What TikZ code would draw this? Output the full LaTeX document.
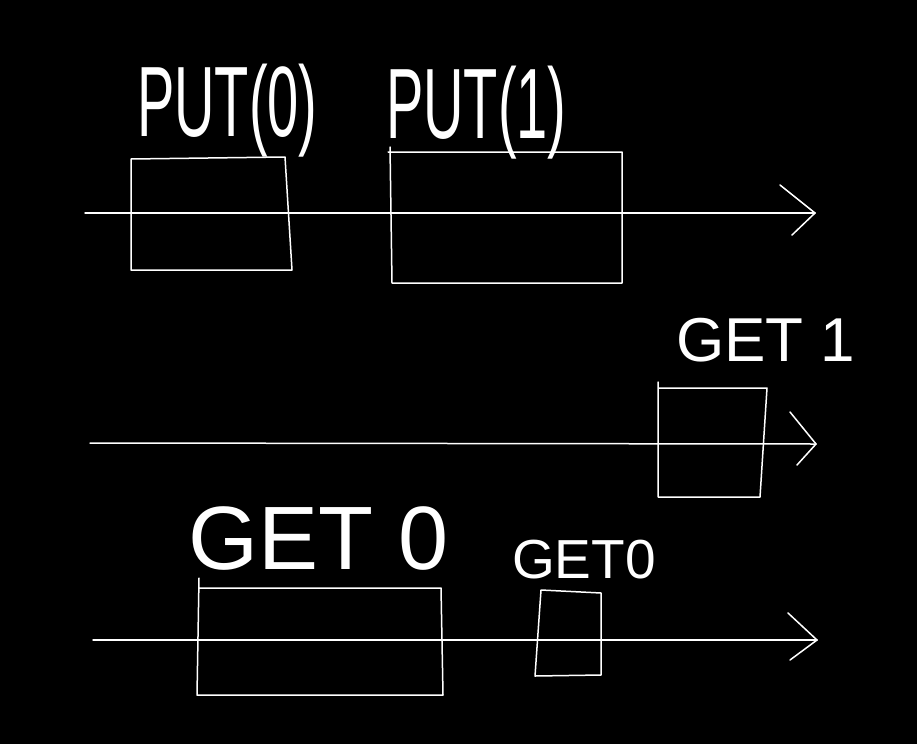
\documentclass[tikz,border=0pt]{standalone}
\usepackage{fontspec}
\setmainfont{Liberation Sans}
\begin{document}
\begin{tikzpicture}[x=1pt,y=-1pt,
  ink/.style={draw=white,line width=1.5pt,line cap=round,line join=round},
  hand/.style={text=white,inner sep=0pt,anchor=base west}]
\useasboundingbox[fill=black] (0,0) rectangle (917,744);
% ---- timeline 1 ----
\coordinate (a1s) at (85,213);
\coordinate (a1e) at (815,213);
\coordinate (a1u) at (780,185);
\coordinate (a1d) at (792,235);
\draw[ink] (a1s) -- (a1e);
\draw[ink] (a1u) -- (a1e) -- (a1d);
% PUT(0) box
\coordinate (p0a) at (131,159);
\coordinate (p0b) at (285,157);
\coordinate (p0c) at (292,270);
\coordinate (p0d) at (131,270);
\draw[ink] (p0a) -- (p0b) -- (p0c) -- (p0d) -- cycle;
% PUT(1) box
\coordinate (p1a) at (388,152);
\coordinate (p1b) at (622,152);
\coordinate (p1c) at (622,283);
\coordinate (p1d) at (392,283);
\coordinate (p1t) at (390,147);
\draw[ink] (p1a) -- (p1b) -- (p1c) -- (p1d) -- (p1t);
% labels
\node[hand] (lput0) at (137,136) {\scalebox{0.56}[1]{\fontsize{100}{100}\selectfont PUT(0)}};
\node[hand] (lput1) at (386,138) {\scalebox{0.56}[1]{\fontsize{100}{100}\selectfont PUT(1)}};
% ---- timeline 2 ----
\coordinate (a2s) at (90,443);
\coordinate (a2e) at (816,444);
\coordinate (a2u) at (790,412);
\coordinate (a2d) at (797,465);
\draw[ink] (a2s) -- (a2e);
\draw[ink] (a2u) -- (a2e) -- (a2d);
% GET 1 box
\coordinate (g1t) at (658,382);
\coordinate (g1a) at (658,388);
\coordinate (g1b) at (767,388);
\coordinate (g1c) at (760,497);
\coordinate (g1d) at (658,497);
\draw[ink] (g1t) -- (g1d) -- (g1c) -- (g1b) -- (g1a);
\node[hand] (lget1) at (676,361) {\fontsize{62}{62}\selectfont GET 1};
% ---- timeline 3 ----
\coordinate (a3s) at (93,640);
\coordinate (a3e) at (817,640);
\coordinate (a3u) at (788,613);
\coordinate (a3d) at (790,660);
\draw[ink] (a3s) -- (a3e);
\draw[ink] (a3u) -- (a3e) -- (a3d);
% GET 0 box
\coordinate (g0t) at (199,578);
\coordinate (g0a) at (199,588);
\coordinate (g0b) at (441,588);
\coordinate (g0c) at (443,695);
\coordinate (g0d) at (197,695);
\draw[ink] (g0t) -- (g0d) -- (g0c) -- (g0b) -- (g0a);
\node[hand] (lget0) at (188,569) {\fontsize{90}{90}\selectfont GET 0};
% small GET0 box
\coordinate (s0a) at (541,590);
\coordinate (s0b) at (601,593);
\coordinate (s0c) at (601,675);
\coordinate (s0d) at (535,676);
\draw[ink] (s0a) -- (s0b) -- (s0c) -- (s0d) -- cycle;
\node[hand] (lget0s) at (512,578) {\fontsize{55}{55}\selectfont GET0};
\end{tikzpicture}
\end{document}
